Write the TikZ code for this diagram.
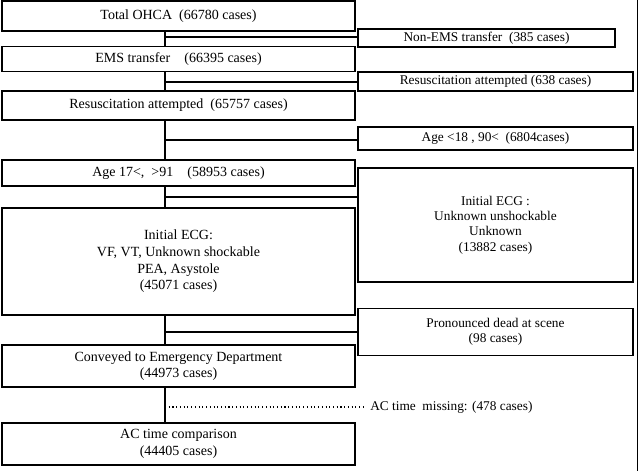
\documentclass[tikz,border=0pt]{standalone}
\usepackage{fontspec}
\setmainfont{Liberation Serif}
\begin{document}
\begin{tikzpicture}[x=0.75pt,y=-0.75pt,
  mainbox/.style={draw,fill=white,line width=1.2pt,inner sep=0pt,align=center,font=\fontsize{10.5}{12.5}\selectfont},
  sidebox/.style={draw,fill=white,line width=1pt,inner sep=0pt,align=center,font=\fontsize{10}{11.5}\selectfont},
  conn/.style={line width=1pt}]
\useasboundingbox (0,0) rectangle (640,471);
\coordinate (vt) at (165,16);
\coordinate (vb) at (165,444);
\coordinate (c1) at (165,37);
\coordinate (c2) at (165,82);
\coordinate (c3) at (165,140);
\coordinate (c4) at (165,197);
\coordinate (c5) at (165,332);
\coordinate (c6) at (165,407);
\coordinate (rt) at (637.5,0);
\coordinate (rb) at (637.5,471);
\draw[line width=0.8pt] (rt) -- (rb);
\draw[conn] (vt) -- (vb);
\node[sidebox,minimum width=257*0.75pt,minimum height=18*0.75pt] (s1) at (486.5,38) {Non-EMS transfer\enspace (385 cases)};
\node[sidebox,minimum width=275*0.75pt,minimum height=19*0.75pt] (s2) at (495.5,81.5) {Resuscitation attempted (638 cases)};
\node[sidebox,minimum width=275*0.75pt,minimum height=23*0.75pt] (s3) at (495.5,138.5) {Age <18 , 90<\enspace (6804cases)};
\node[sidebox,minimum width=275*0.75pt,minimum height=114*0.75pt] (s4) at (495.5,225) {Initial ECG :\\Unknown unshockable\\Unknown\\(13882 cases)};
\node[sidebox,minimum width=275*0.75pt,minimum height=47*0.75pt] (s5) at (495.5,332) {Pronounced dead at scene\\(98 cases)};
\node[font=\fontsize{10}{11}\selectfont,anchor=west,inner sep=0pt] (s6) at (370,407) {AC time\enspace missing: (478 cases)};
\draw[conn] (c1) -- (c1 -| s1.west);
\draw[conn] (c2) -- (c2 -| s2.west);
\draw[conn] (c3) -- (c3 -| s3.west);
\draw[conn] (c4) -- (c4 -| s4.west);
\draw[conn] (c5) -- (c5 -| s5.west);
\draw[line width=0.8pt,dotted] (c6) -- ([xshift=-3pt]s6.west);
\node[mainbox,minimum width=353*0.75pt,minimum height=30*0.75pt] (b1) at (178.5,16) {Total OHCA\enspace (66780 cases)};
\node[mainbox,minimum width=353*0.75pt,minimum height=25*0.75pt] (b2) at (178.5,59) {EMS transfer\quad (66395 cases)};
\node[mainbox,minimum width=353*0.75pt,minimum height=29*0.75pt] (b3) at (178.5,105.5) {Resuscitation attempted\enspace (65757 cases)};
\node[mainbox,minimum width=353*0.75pt,minimum height=26*0.75pt] (b4) at (178.5,173) {Age 17<,\enspace >91\quad (58953 cases)};
\node[mainbox,minimum width=353*0.75pt,minimum height=107*0.75pt] (b5) at (178.5,261.5) {Initial ECG:\\VF, VT, Unknown shockable\\PEA, Asystole\\(45071 cases)};
\node[mainbox,minimum width=353*0.75pt,minimum height=42*0.75pt] (b6) at (178.5,366) {Conveyed to Emergency Department\\(44973 cases)};
\node[mainbox,minimum width=353*0.75pt,minimum height=42*0.75pt] (b7) at (178.5,444) {AC time comparison\\(44405 cases)};
\end{tikzpicture}
\end{document}
